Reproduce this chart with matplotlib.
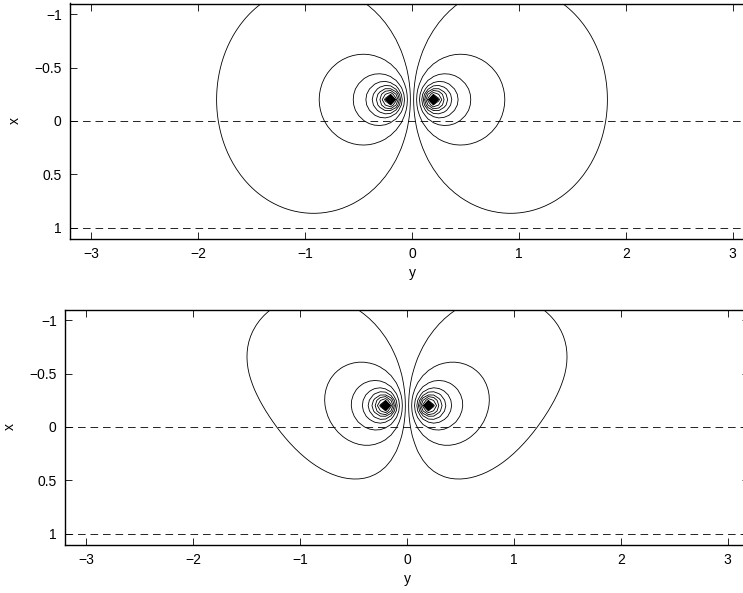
import matplotlib
matplotlib.use("Agg")
import matplotlib.pyplot as plt
import numpy as np

# posicoes das cargas (y, x)
cargas_y = [-0.2, 0.2]
cargas_x = [-0.2, -0.2]
sinais = [1, -1]

# niveis de contorno (lado positivo, o negativo e espelhado)
niveis = [0.155, 0.44, 0.744, 0.994, 1.198, 1.394, 1.599, 1.848, 2.104]
# niveis que enchem o losango preto em volta de cada carga
niveis_centro = [2.25, 2.45, 2.65, 2.85, 3.05, 3.25, 3.45, 3.65, 3.85, 4.05]

# linhas tracejadas
interfaces = [0, 1]

# correcao do segundo grafico: amplitude, centro e largura da transicao em x
g_max = 0.25
x_meio = -0.05
largura = 0.36

ticks_y = [-3, -2, -1, 0, 1, 2, 3]
ticks_x = [-1, -0.5, 0, 0.5, 1]
rotulos_x = ['\u22121', '\u22120.5', '0', '0.5', '1']
rotulos_y = ['\u22123', '\u22122', '\u22121', '0', '1', '2', '3']

plt.rcParams['font.family'] = ['Liberation Sans', 'DejaVu Sans']
plt.rcParams['font.size'] = 10
plt.rcParams['contour.negative_linestyle'] = 'solid'
plt.rcParams['lines.scale_dashes'] = False

yy = np.linspace(-3.2, 3.2, 129)
xx = np.linspace(-1.1, 1.1, 45)
Y, X = np.meshgrid(yy, xx)
W = Y + 1j * X


def campo():
    # fileira periodica (periodo 2*pi em y) de fontes 2D
    phi = np.zeros_like(Y)
    for cy, cx, s in zip(cargas_y, cargas_x, sinais):
        m = np.abs(np.sin((W - (cy + 1j * cx)) / 2))
        m = np.maximum(m, 0.0025)
        phi += -s * np.log(m)
    return phi


phi1 = campo()

# segundo caso: o campo perde forca em direcao a camada (x > 0)
g = g_max / (1 + np.exp(-(X - x_meio) / largura))
phi2 = campo() + np.sin(Y) * g

lv = sorted([-n for n in niveis + niveis_centro] + niveis + niveis_centro)

fig = plt.figure(figsize=(7.43, 5.93), dpi=100)
ax1 = fig.add_axes([70 / 743, (593 - 238.5) / 593, 684 / 743, 235 / 593])
ax2 = fig.add_axes([65 / 743, (593 - 544.5) / 593, 684 / 743, 235 / 593])

for ax, phi in [(ax1, phi1), (ax2, phi2)]:
    ax.contour(Y, X, phi, levels=lv, colors='k', linewidths=0.6)
    for xi in interfaces:
        ax.axhline(xi, color='k', lw=0.6, linestyle=(0, (5.5, 3.5)))
    ax.set_xlim(-3.2, 3.2)
    ax.set_ylim(1.1, -1.1)
    ax.set_xticks(ticks_y)
    ax.set_xticklabels(rotulos_y)
    ax.set_yticks(ticks_x)
    ax.set_yticklabels(rotulos_x)
    ax.tick_params(direction='in', length=5, width=0.6, top=True, right=True, pad=6)
    ax.set_xlabel('y', labelpad=4)
    ax.set_ylabel('x', labelpad=9)
    for sp in ax.spines.values():
        sp.set_linewidth(1.0)

fig.savefig('out.png', dpi=100)
